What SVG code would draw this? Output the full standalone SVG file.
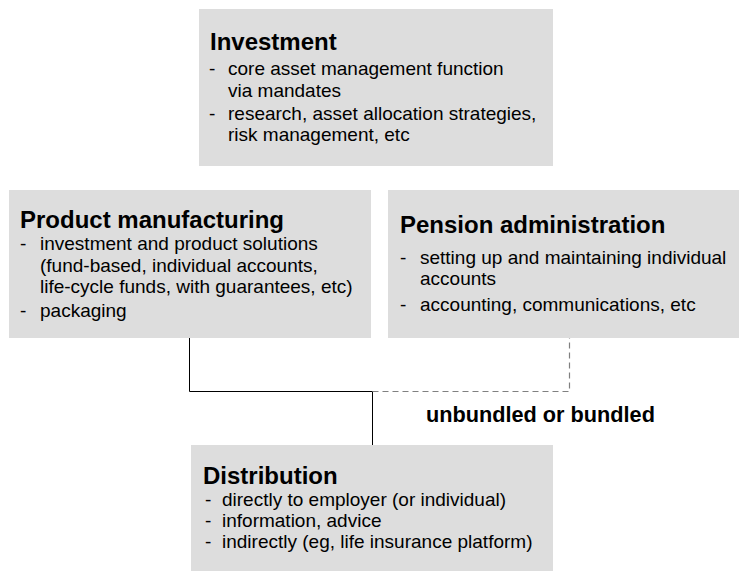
<svg xmlns="http://www.w3.org/2000/svg" width="739" height="571" viewBox="0 0 739 571">
<style>
.box{fill:#dddddd;stroke:none}
.t{font-family:"Liberation Sans",Arial,sans-serif;font-weight:bold;font-size:24px;fill:#000}
.b{font-family:"Liberation Sans",Arial,sans-serif;font-size:19px;fill:#000}
.lbl{font-family:"Liberation Sans",Arial,sans-serif;font-weight:bold;font-size:21.7px;fill:#000}
.solid{stroke:#000;stroke-width:1;fill:none}
.dash{stroke:#808080;stroke-width:1.2;fill:none;stroke-dasharray:6 4}
</style>
<rect width="739" height="571" fill="#fff"/>
<g id="connectors">
<polyline class="solid" points="189.5,338 189.5,391.5 372.5,391.5"/>
<line class="solid" x1="372.5" y1="391.5" x2="372.5" y2="445"/>
<polyline class="dash" points="372.5,391.5 569.5,391.5 569.5,338"/>
<text class="lbl" x="426" y="422">unbundled or bundled</text>
</g>
<g id="investment">
<rect class="box" x="199" y="9" width="354" height="157"/>
<text class="t" x="210" y="50">Investment</text>
<text class="b" x="209" y="75">-</text><text class="b" x="228" y="75">core asset management function</text>
<text class="b" x="228" y="97">via mandates</text>
<text class="b" x="209" y="120">-</text><text class="b" x="228" y="120">research, asset allocation strategies,</text>
<text class="b" x="228" y="141">risk management, etc</text>
</g>
<g id="product">
<rect class="box" x="9" y="190" width="362" height="148"/>
<text class="t" x="20" y="228">Product manufacturing</text>
<text class="b" x="20" y="250">-</text><text class="b" x="40" y="250">investment and product solutions</text>
<text class="b" x="40" y="272">(fund-based, individual accounts,</text>
<text class="b" x="40" y="293">life-cycle funds, with guarantees, etc)</text>
<text class="b" x="20" y="317">-</text><text class="b" x="40" y="317">packaging</text>
</g>
<g id="pension">
<rect class="box" x="388" y="190" width="351" height="148"/>
<text class="t" x="400" y="233">Pension administration</text>
<text class="b" x="400" y="264">-</text><text class="b" x="420" y="264">setting up and maintaining individual</text>
<text class="b" x="420" y="285">accounts</text>
<text class="b" x="400" y="311">-</text><text class="b" x="420" y="311">accounting, communications, etc</text>
</g>
<g id="distribution">
<rect class="box" x="191" y="445" width="362" height="126"/>
<text class="t" x="203" y="484">Distribution</text>
<text class="b" x="205" y="506">-</text><text class="b" x="222" y="506">directly to employer (or individual)</text>
<text class="b" x="205" y="527">-</text><text class="b" x="222" y="527">information, advice</text>
<text class="b" x="205" y="548">-</text><text class="b" x="222" y="548">indirectly (eg, life insurance platform)</text>
</g>
</svg>
